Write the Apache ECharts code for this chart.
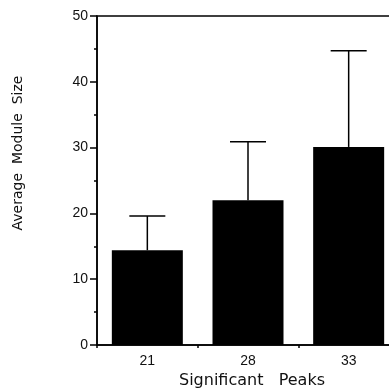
<!DOCTYPE html>
<html>
<head>
<meta charset="utf-8">
<script src="https://cdn.jsdelivr.net/npm/echarts@6/dist/echarts.min.js"></script>
<style>
  html, body { margin: 0; padding: 0; background: #fff; }
  #chart { width: 389px; height: 392px; }
</style>
</head>
<body>
<div id="chart"></div>
<script>
const peaks = ['21', '28', '33']
const meanSize = [14.4, 22.0, 30.1]
const errTop = [19.6, 30.9, 44.7]
const yTicks = [0, 10, 20, 30, 40, 50]

const chart = echarts.init(document.getElementById('chart'))
const font = 'DejaVu Sans, Verdana, sans-serif'
const numFont = 'Liberation Sans, Arial, sans-serif'

const option = {
  animation: false,
  grid: {
    left: 97,
    top: 16,
    width: 302,
    bottom: 47,
    outerBoundsMode: 'none',
    containLabel: false,
    show: true,
    borderColor: '#000',
    borderWidth: 1.5,
    backgroundColor: 'transparent'
  },
  xAxis: {
    type: 'category',
    data: peaks,
    name: 'Significant   Peaks',
    nameLocation: 'middle',
    nameGap: 28,
    nameTextStyle: { fontFamily: font, fontSize: 16, color: '#111', padding: [0, 0, 0, 8] },
    axisLine: { lineStyle: { color: '#000', width: 1.5 } },
    axisTick: { show: true, length: 3, lineStyle: { color: '#000', width: 1.5 } },
    axisLabel: {
      fontFamily: numFont, fontSize: 14, color: '#111', margin: 9
    }
  },
  yAxis: {
    type: 'value',
    min: 0,
    max: 50,
    interval: 10,
    axisLine: { show: true, lineStyle: { color: '#000', width: 1.5 } },
    axisTick: { show: true, length: 7, lineStyle: { color: '#000', width: 1.5 } },
    minorTick: { show: true, splitNumber: 2, length: 3, lineStyle: { color: '#000', width: 1.5 } },
    splitLine: { show: false },
    axisLabel: {
      fontFamily: numFont, fontSize: 14, color: '#111', margin: 9,
      formatter: v => yTicks.includes(v) ? String(v) : ''
    }
  },
  graphic: [{
    type: 'text',
    x: 18,
    y: 153,
    rotation: Math.PI / 2,
    style: {
      text: 'Average  Module  Size',
      fontFamily: font,
      fontSize: 14,
      fill: '#111',
      align: 'center',
      verticalAlign: 'middle'
    }
  }],
  series: [
    {
      type: 'custom',
      z: 1,
      renderItem: (params, api) => {
        const base = api.coord([api.value(0), api.value(1)])
        const top = api.coord([api.value(0), api.value(2)])
        const half = 18
        return {
          type: 'group',
          children: [
            { type: 'line', shape: { x1: base[0], y1: base[1], x2: top[0], y2: top[1] },
              style: { stroke: '#000', lineWidth: 1.5 } },
            { type: 'line', shape: { x1: top[0] - half, y1: top[1], x2: top[0] + half, y2: top[1] },
              style: { stroke: '#000', lineWidth: 1.5 } }
          ]
        }
      },
      data: peaks.map((p, i) => [i, meanSize[i], errTop[i]])
    },
    {
      type: 'bar',
      z: 2,
      data: meanSize,
      barWidth: 71,
      itemStyle: { color: '#000' }
    }
  ]
}

chart.setOption(option)
</script>
</body>
</html>
